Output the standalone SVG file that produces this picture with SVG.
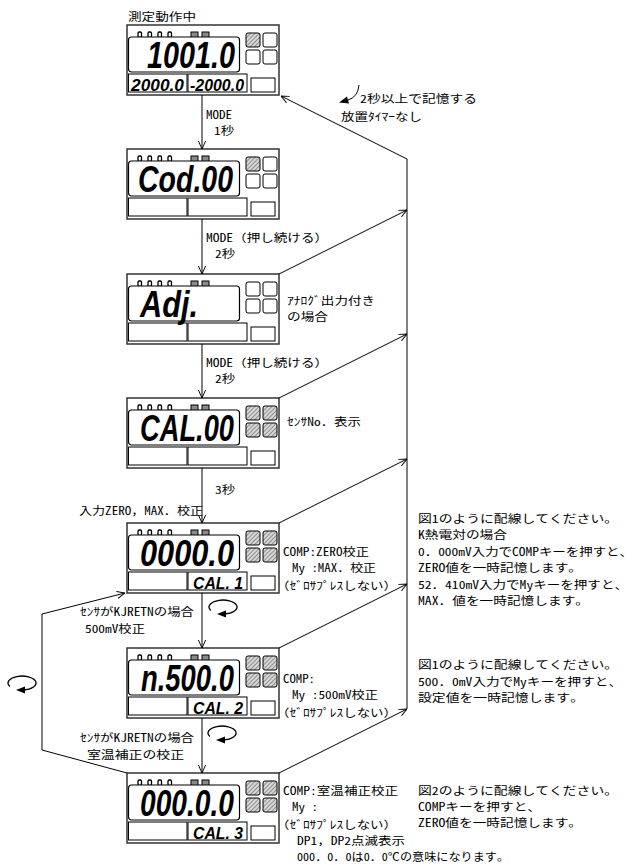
<svg xmlns="http://www.w3.org/2000/svg" width="635" height="865" viewBox="0 0 635 865">
<style>
.jp{font-family:"Noto Sans Mono CJK JP","Noto Sans CJK JP",sans-serif;font-size:11px;fill:#000}
.seg{font-family:"Liberation Sans",Arial,sans-serif;font-weight:bold;font-style:italic;font-size:36px;fill:#000}
.segs{font-size:16.5px}
.frame{fill:#fff;stroke:#333;stroke-width:1.5}
.box{fill:#fff;stroke:#000;stroke-width:1}
.win{fill:#fff;stroke:#000;stroke-width:1.2}
.sq{fill:#fff;stroke:#000;stroke-width:1}
.sqh{fill:url(#hatch);stroke:#000;stroke-width:1}
.dot{fill:#fff;stroke:#000;stroke-width:1.3}
.ee{fill:#8a8a8a;stroke:#000;stroke-width:1}
.ln{fill:none;stroke:#000;stroke-width:1}
.rail{fill:none;stroke:#808080;stroke-width:2}
.loop{fill:none;stroke:#000;stroke-width:1.3}
</style>
<defs>
<pattern id="hatch" patternUnits="userSpaceOnUse" width="3" height="3" patternTransform="rotate(45)">
<rect width="3" height="3" fill="#d8d8d8"/>
<line x1="0" y1="0" x2="0" y2="3" stroke="#5a5a5a" stroke-width="1.2"/>
</pattern>
<marker id="ah" viewBox="0 0 10 10" refX="10" refY="5" markerWidth="8" markerHeight="8" markerUnits="userSpaceOnUse" orient="auto">
<path d="M0,0.5 L10,5 L0,9.5" fill="none" stroke="#000" stroke-width="1.2"/>
</marker>
<g id="frame">
<rect class="frame" x="0" y="0" width="152" height="70"/>
<rect class="dot" x="11" y="7" width="3.5" height="5.5" rx="1.2"/>
<rect class="dot" x="21" y="7" width="3.5" height="5.5" rx="1.2"/>
<rect class="dot" x="31" y="7" width="3.5" height="5.5" rx="1.2"/>
<rect class="dot" x="41" y="7" width="3.5" height="5.5" rx="1.2"/>
<rect class="ee" x="64" y="7" width="7" height="5.5"/>
<rect class="ee" x="75" y="7" width="7" height="5.5"/>
<rect class="win" x="1.5" y="12" width="111" height="35" rx="3"/>
<rect class="box" x="1.5" y="49" width="58.5" height="18"/>
<rect class="box" x="61" y="49" width="59" height="18"/>
<rect class="box" x="124" y="53" width="24" height="14"/>
</g>
<g id="sq4">
<rect class="sqh" x="119" y="8" width="14" height="14" rx="2"/>
<rect class="sqh" x="136" y="8" width="14" height="14" rx="2"/>
<rect class="sqh" x="119" y="25" width="14" height="14" rx="2"/>
<rect class="sqh" x="136" y="25" width="14" height="14" rx="2"/>
</g>
<g id="loopg">
<path class="loop" d="M-12.1,3.5 A14,7 0 1 1 1.5,6.98"/>
<path d="M-6,7 L3,3.4 L3,10.6 Z" fill="#000"/>
</g>
</defs>

<text class="jp" x="128" y="21" font-size="13" textLength="68" lengthAdjust="spacingAndGlyphs">測定動作中</text>

<g id="d1" transform="translate(127,25)">
<use href="#frame"/>
<rect class="sqh" x="119" y="8" width="14" height="14" rx="2"/>
<rect class="sq" x="136" y="8" width="14" height="14" rx="2"/>
<rect class="sq" x="119" y="25" width="14" height="14" rx="2"/>
<rect class="sq" x="136" y="25" width="14" height="14" rx="2"/>
<text class="seg" x="20" y="43" textLength="88" lengthAdjust="spacingAndGlyphs">1001.0</text>
<text class="seg segs" x="4" y="66" textLength="53" lengthAdjust="spacingAndGlyphs">2000.0</text>
<text class="seg segs" x="63" y="66" textLength="54" lengthAdjust="spacingAndGlyphs">-2000.0</text>
</g>

<g id="d2" transform="translate(127,149)">
<use href="#frame"/>
<rect class="sqh" x="119" y="8" width="14" height="14" rx="2"/>
<rect class="sq" x="136" y="8" width="14" height="14" rx="2"/>
<rect class="sq" x="119" y="25" width="14" height="14" rx="2"/>
<rect class="sq" x="136" y="25" width="14" height="14" rx="2"/>
<text class="seg" x="11" y="43" textLength="95" lengthAdjust="spacingAndGlyphs">Cod.00</text>
</g>

<g id="d3" transform="translate(127,274)">
<use href="#frame"/>
<rect class="sq" x="119" y="8" width="14" height="14" rx="2"/>
<rect class="sq" x="136" y="8" width="14" height="14" rx="2"/>
<rect class="sq" x="119" y="25" width="14" height="14" rx="2"/>
<rect class="sq" x="136" y="25" width="14" height="14" rx="2"/>
<text class="seg" x="13" y="43" textLength="58" lengthAdjust="spacingAndGlyphs">Adj.</text>
</g>

<g id="d4" transform="translate(127,398)">
<use href="#frame"/>
<use href="#sq4"/>
<text class="seg" x="13" y="43" textLength="94" lengthAdjust="spacingAndGlyphs">CAL.00</text>
</g>

<g id="d5" transform="translate(127,523)">
<use href="#frame"/>
<use href="#sq4"/>
<text class="seg" x="13" y="43" textLength="94" lengthAdjust="spacingAndGlyphs">0000.0</text>
<text class="seg segs" x="66" y="66" textLength="50" lengthAdjust="spacingAndGlyphs">CAL. 1</text>
</g>

<g id="d6" transform="translate(127,648)">
<use href="#frame"/>
<use href="#sq4"/>
<text class="seg" x="14" y="43" textLength="93" lengthAdjust="spacingAndGlyphs">n.500.0</text>
<text class="seg segs" x="66" y="66" textLength="50" lengthAdjust="spacingAndGlyphs">CAL. 2</text>
</g>

<g id="d7" transform="translate(127,773)">
<use href="#frame"/>
<use href="#sq4"/>
<text class="seg" x="13" y="43" textLength="94" lengthAdjust="spacingAndGlyphs">000.0.0</text>
<text class="seg segs" x="66" y="66" textLength="50" lengthAdjust="spacingAndGlyphs">CAL. 3</text>
</g>

<g id="connectors">
<line class="ln" x1="202" y1="95" x2="202" y2="149" marker-end="url(#ah)"/>
<line class="ln" x1="202" y1="219" x2="202" y2="274" marker-end="url(#ah)"/>
<line class="ln" x1="202" y1="344" x2="202" y2="398" marker-end="url(#ah)"/>
<line class="ln" x1="202" y1="468" x2="202" y2="523" marker-end="url(#ah)"/>
<line class="ln" x1="202" y1="593" x2="202" y2="648" marker-end="url(#ah)"/>
<line class="ln" x1="202" y1="718" x2="202" y2="773" marker-end="url(#ah)"/>
<line class="rail" x1="407" y1="159" x2="407" y2="709"/>
<line class="ln" x1="407" y1="159" x2="281" y2="96" marker-end="url(#ah)"/>
<line class="ln" x1="279" y1="274" x2="407" y2="210" marker-end="url(#ah)"/>
<line class="ln" x1="279" y1="398" x2="407" y2="334" marker-end="url(#ah)"/>
<line class="ln" x1="279" y1="523" x2="407" y2="459" marker-end="url(#ah)"/>
<line class="ln" x1="279" y1="648" x2="407" y2="584" marker-end="url(#ah)"/>
<line class="ln" x1="279" y1="773" x2="407" y2="709" marker-end="url(#ah)"/>
<polyline class="ln" points="127,773 42,750 42,614 125,593" marker-end="url(#ah)"/>
<use href="#loopg" transform="translate(223,607)"/>
<use href="#loopg" transform="translate(222,733)"/>
<use href="#loopg" transform="translate(22,683)"/>
<path class="ln" d="M359,85 Q358,97 348,100" stroke-width="1.2"/>
<path d="M339,102.6 L349,103.6 L347,96.4 Z" fill="#000"/>
</g>

<g id="labels">
<text class="jp" x="206" y="119" textLength="26" lengthAdjust="spacingAndGlyphs">MODE</text>
<text class="jp" x="214" y="135" textLength="20" lengthAdjust="spacingAndGlyphs">1秒</text>
<text class="jp" x="360" y="103" textLength="117" lengthAdjust="spacingAndGlyphs">2秒以上で記憶する</text>
<text class="jp" x="341" y="121" textLength="81" lengthAdjust="spacingAndGlyphs">放置ﾀｲﾏｰなし</text>
<text class="jp" x="206" y="242" textLength="122" lengthAdjust="spacingAndGlyphs">MODE（押し続ける）</text>
<text class="jp" x="215" y="258" textLength="20" lengthAdjust="spacingAndGlyphs">2秒</text>
<text class="jp" x="287" y="305" textLength="88" lengthAdjust="spacingAndGlyphs">ｱﾅﾛｸﾞ出力付き</text>
<text class="jp" x="287" y="321" textLength="41" lengthAdjust="spacingAndGlyphs">の場合</text>
<text class="jp" x="206" y="367" textLength="122" lengthAdjust="spacingAndGlyphs">MODE（押し続ける）</text>
<text class="jp" x="215" y="383" textLength="20" lengthAdjust="spacingAndGlyphs">2秒</text>
<text class="jp" x="287" y="426" textLength="74" lengthAdjust="spacingAndGlyphs">ｾﾝｻNo．表示</text>
<text class="jp" x="215" y="494" textLength="20" lengthAdjust="spacingAndGlyphs">3秒</text>
<text class="jp" x="79" y="515" textLength="124" lengthAdjust="spacingAndGlyphs">入力ZERO，MAX．校正</text>

<text class="jp" x="283" y="556" textLength="86" lengthAdjust="spacingAndGlyphs">COMP:ZERO校正</text>
<text class="jp" x="292" y="572" textLength="84" lengthAdjust="spacingAndGlyphs">My :MAX．校正</text>
<text class="jp" x="276" y="590" textLength="121" lengthAdjust="spacingAndGlyphs">（ｾﾞﾛｻﾌﾟﾚｽしない）</text>
<text class="jp" x="418" y="523" textLength="200" lengthAdjust="spacingAndGlyphs">図1のように配線してください。</text>
<text class="jp" x="418" y="539" textLength="89" lengthAdjust="spacingAndGlyphs">K熱電対の場合</text>
<text class="jp" x="418" y="556" textLength="215" lengthAdjust="spacingAndGlyphs">0．000mV入力でCOMPキーを押すと、</text>
<text class="jp" x="418" y="572" textLength="164" lengthAdjust="spacingAndGlyphs">ZERO値を一時記憶します。</text>
<text class="jp" x="418" y="589" textLength="210" lengthAdjust="spacingAndGlyphs">52．410mV入力でMyキーを押すと、</text>
<text class="jp" x="418" y="605" textLength="171" lengthAdjust="spacingAndGlyphs">MAX．値を一時記憶します。</text>

<text class="jp" x="80" y="616" textLength="114" lengthAdjust="spacingAndGlyphs">ｾﾝｻがKJRETNの場合</text>
<text class="jp" x="85" y="633" textLength="60" lengthAdjust="spacingAndGlyphs">500mV校正</text>

<text class="jp" x="283" y="683" textLength="32" lengthAdjust="spacingAndGlyphs">COMP:</text>
<text class="jp" x="292" y="699" textLength="86" lengthAdjust="spacingAndGlyphs">My :500mV校正</text>
<text class="jp" x="276" y="717" textLength="121" lengthAdjust="spacingAndGlyphs">（ｾﾞﾛｻﾌﾟﾚｽしない）</text>
<text class="jp" x="418" y="669" textLength="200" lengthAdjust="spacingAndGlyphs">図1のように配線してください。</text>
<text class="jp" x="418" y="686" textLength="204" lengthAdjust="spacingAndGlyphs">500．0mV入力でMyキーを押すと、</text>
<text class="jp" x="418" y="702" textLength="166" lengthAdjust="spacingAndGlyphs">設定値を一時記憶します。</text>

<text class="jp" x="80" y="742" textLength="114" lengthAdjust="spacingAndGlyphs">ｾﾝｻがKJRETNの場合</text>
<text class="jp" x="87" y="759" textLength="97" lengthAdjust="spacingAndGlyphs">室温補正の校正</text>

<text class="jp" x="283" y="795" textLength="115" lengthAdjust="spacingAndGlyphs">COMP:室温補正校正</text>
<text class="jp" x="292" y="811" textLength="26" lengthAdjust="spacingAndGlyphs">My :</text>
<text class="jp" x="276" y="829" textLength="121" lengthAdjust="spacingAndGlyphs">（ｾﾞﾛｻﾌﾟﾚｽしない）</text>
<text class="jp" x="297" y="845" textLength="108" lengthAdjust="spacingAndGlyphs">DP1，DP2点滅表示</text>
<text class="jp" x="297" y="861" textLength="212" lengthAdjust="spacingAndGlyphs">000．0．0は0．0℃の意味になります。</text>
<text class="jp" x="418" y="795" textLength="200" lengthAdjust="spacingAndGlyphs">図2のように配線してください。</text>
<text class="jp" x="418" y="811" textLength="123" lengthAdjust="spacingAndGlyphs">COMPキーを押すと、</text>
<text class="jp" x="418" y="827" textLength="164" lengthAdjust="spacingAndGlyphs">ZERO値を一時記憶します。</text>
</g>
</svg>
